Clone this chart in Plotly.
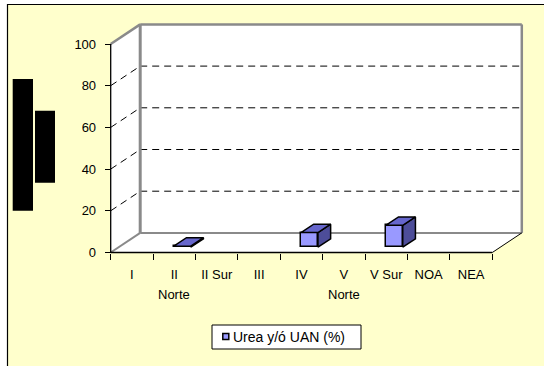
import plotly.graph_objects as go

# ---- data ----
categories = ["I", "II Norte", "II Sur", "III", "IV", "V Norte", "V Sur", "NOA", "NEA"]
label_line1 = ["I", "II", "II Sur", "III", "IV", "V", "V Sur", "NOA", "NEA"]
label_line2 = ["", "Norte", "", "", "", "Norte", "", "", ""]
urea_uan = [None, 0.5, None, None, 7, None, 10.5, None, None]
y_ticks = [0, 20, 40, 60, 80, 100]
series_name = "Urea y/ó UAN (%)"

# ---- page / projection geometry (pixels) ----
W, H = 544, 366
L, R, T, B = 100, 534, 14, 262           # plot area
FX0, FX1 = 110.7, 492.3                  # front floor edge, left / right
FY0, FY100 = 252.5, 44.0                 # front plane y=0 and y=100
DEPTH_PX = (29.5, 19.6)                  # back wall offset (right, up)
D0, D1 = 0.27, 0.70                      # depth slab occupied by the columns
BAR_W = 0.40                             # column width in category units

FONT = "Liberation Sans, Arial, sans-serif"
BG = "#FFFFCC"
GREY = "#8A8A8A"
FACE, TOP, SIDE = "#9999FF", "#6666CC", "#4D4D99"

n = len(categories)
sx = (FX1 - FX0) / n
sy = (FY0 - FY100) / 100.0
x_lo = -0.5 - (FX0 - L) / sx
x_hi = n - 0.5 + (R - FX1) / sx
y_lo = -(B - FY0) / sy
y_hi = (FY0 - T) / sy
DX = DEPTH_PX[0] / sx
DY = DEPTH_PX[1] / sy
xa, xb = -0.5, n - 0.5
ymax = y_ticks[-1]


def proj(x, y, d):
    """Map a point of the 3-D box (depth d in 0..1) onto the 2-D axes."""
    return x + d * DX, y + d * DY


def px_x(p):
    return (p - L) / (R - L)


def px_y(p):
    return (B - p) / (B - T)


shapes = []


def seg(p, q, color, width, dash="solid", layer="below"):
    shapes.append(dict(type="line", xref="x", yref="y", x0=p[0], y0=p[1], x1=q[0], y1=q[1],
                       line=dict(color=color, width=width, dash=dash), layer=layer))


def poly(points, fill):
    path = "M" + "L".join(f"{x},{y}" for x, y in points) + "Z"
    shapes.append(dict(type="path", xref="x", yref="y", path=path, fillcolor=fill,
                       line=dict(width=0), layer="below"))


# chart area background + border, and the two dark blocks at the left
shapes.append(dict(type="rect", xref="paper", yref="paper",
                   x0=px_x(7.5), x1=px_x(W + 10), y0=px_y(4.5), y1=px_y(H + 10),
                   fillcolor=BG, line=dict(color="black", width=1.2), layer="below"))
for (a, b, c, d) in [(12.7, 79, 33, 210.7), (35, 110.7, 55, 182.7)]:
    shapes.append(dict(type="rect", xref="paper", yref="paper",
                       x0=px_x(a), x1=px_x(c), y0=px_y(b), y1=px_y(d),
                       fillcolor="black", line=dict(width=0), layer="below"))

# walls and floor
poly([proj(xa, 0, 1), proj(xb, 0, 1), proj(xb, ymax, 1), proj(xa, ymax, 1)], "white")
poly([proj(xa, 0, 0), proj(xa, ymax, 0), proj(xa, ymax, 1), proj(xa, 0, 1)], "white")
poly([proj(xa, 0, 0), proj(xb, 0, 0), proj(xb, 0, 1), proj(xa, 0, 1)], "white")

# dashed gridlines on side and back walls
for v in y_ticks[1:-1]:
    seg(proj(xa, v, 0), proj(xa, v, 1), "black", 1, "7px,5px")
    seg(proj(xa, v, 1), proj(xb, v, 1), "black", 1, "7px,5px")

# wall edges
seg(proj(xa, 0, 1), proj(xb, 0, 1), GREY, 2)
seg(proj(xa, 0, 0), proj(xa, 0, 1), GREY, 2)
seg(proj(xa, ymax, 0), proj(xa, ymax, 1), GREY, 2.5)
seg(proj(xa, ymax, 1), proj(xb, ymax, 1), GREY, 2.5)
seg(proj(xa, 0, 1), proj(xa, ymax, 1), GREY, 3)
seg(proj(xb, 0, 1), proj(xb, ymax, 1), GREY, 2.5)
seg(proj(xb, 0, 0), proj(xb, 0, 1), "black", 1)
seg(proj(xa, 0, 0), proj(xb, 0, 0), "black", 1.3)
seg(proj(xa, 0, 0), proj(xa, ymax, 0), "black", 1.3)

# ---- columns ----
xs = list(range(n))
fig = go.Figure()
fig.add_trace(go.Bar(
    x=xs, y=urea_uan, base=D0 * DY, width=BAR_W, offset=D0 * DX - BAR_W / 2,
    marker=dict(color=FACE, line=dict(color="black", width=1.5)),
    name=series_name, showlegend=False, hoverinfo="skip"))

top_x, top_y, side_x, side_y = [], [], [], []
for i, v in enumerate(urea_uan):
    if v is None:
        continue
    xl, xr = i - BAR_W / 2, i + BAR_W / 2
    for pt in [proj(xl, v, D0), proj(xr, v, D0), proj(xr, v, D1), proj(xl, v, D1), proj(xl, v, D0)]:
        top_x.append(pt[0]); top_y.append(pt[1])
    for pt in [proj(xr, 0, D0), proj(xr, 0, D1), proj(xr, v, D1), proj(xr, v, D0), proj(xr, 0, D0)]:
        side_x.append(pt[0]); side_y.append(pt[1])
    top_x.append(None); top_y.append(None)
    side_x.append(None); side_y.append(None)

for px_, py_, col in [(side_x, side_y, SIDE), (top_x, top_y, TOP)]:
    fig.add_trace(go.Scatter(x=px_, y=py_, mode="lines", fill="toself", fillcolor=col,
                             line=dict(color="black", width=1.5), showlegend=False,
                             hoverinfo="skip"))

# second label line under the split regions
annotations = []
for i, s in enumerate(label_line2):
    if s:
        annotations.append(dict(x=i, y=0, xref="x", yref="y", text=s, showarrow=False,
                                yanchor="middle", yshift=-(294.3 - FY0),
                                font=dict(family=FONT, size=13, color="black")))

# legend box
lg_x0, lg_x1, lg_y0, lg_y1 = 212, 361, 325, 349
shapes.append(dict(type="rect", xref="paper", yref="paper",
                   x0=px_x(lg_x0), x1=px_x(lg_x1), y0=px_y(lg_y0), y1=px_y(lg_y1),
                   fillcolor="white", line=dict(color="black", width=1), layer="above"))
shapes.append(dict(type="rect", xref="paper", yref="paper",
                   x0=px_x(222.8), x1=px_x(228.8), y0=px_y(333.5), y1=px_y(339.5),
                   fillcolor=FACE, line=dict(color="black", width=1.5), layer="above"))
annotations.append(dict(x=px_x(231), y=px_y(337), xref="paper", yref="paper",
                        xanchor="left", yanchor="middle", text=series_name, showarrow=False,
                        font=dict(family=FONT, size=14, color="black")))

fig.update_layout(
    width=W, height=H,
    margin=dict(l=L, r=W - R, t=T, b=H - B, pad=0),
    paper_bgcolor="white", plot_bgcolor="rgba(0,0,0,0)",
    font=dict(family=FONT, size=13, color="black"),
    showlegend=False,
    shapes=shapes, annotations=annotations,
    xaxis=dict(range=[x_lo, x_hi], anchor="free", position=(B - FY0) / (B - T),
               tickmode="array", tickvals=xs, ticktext=label_line1,
               ticks="outside", ticklen=6, tickcolor="rgba(0,0,0,0)", ticklabelstandoff=4,
               minor=dict(tickmode="array", tickvals=[i - 0.5 for i in range(n + 1)],
                          ticks="outside", ticklen=6, tickcolor="black", tickwidth=1),
               showgrid=False, zeroline=False, showline=False, fixedrange=True),
    yaxis=dict(range=[y_lo, y_hi], anchor="free", position=(FX0 - L) / (R - L),
               tickmode="array", tickvals=y_ticks,
               ticks="outside", ticklen=6, tickcolor="black", tickwidth=1, ticklabelstandoff=6,
               showgrid=False, zeroline=False, showline=False, fixedrange=True),
    bargap=0,
)

fig.write_html("out.html")
